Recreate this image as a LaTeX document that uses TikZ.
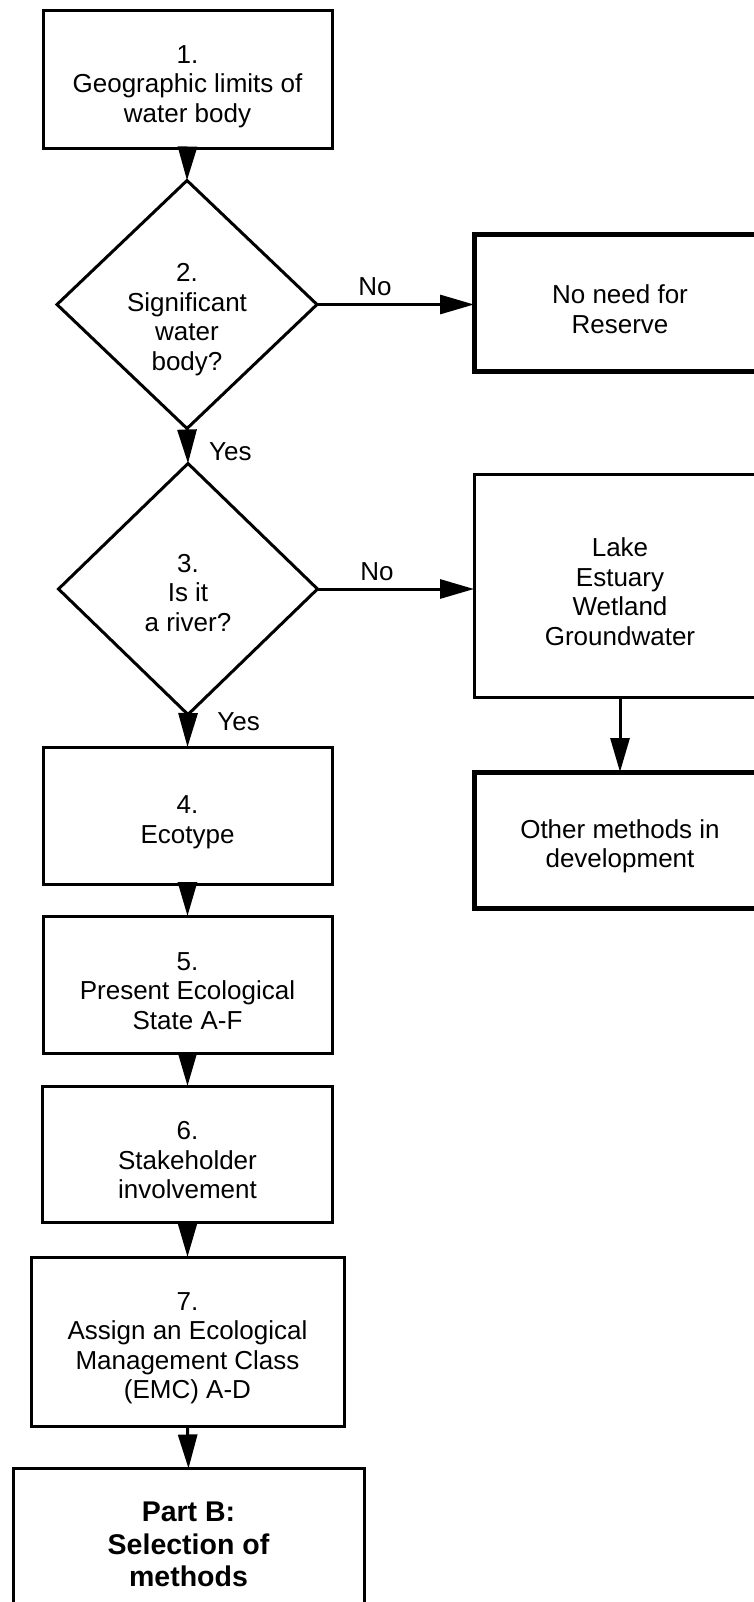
\documentclass[tikz,border=0pt]{standalone}
\usepackage{fontspec}
\setmainfont{Liberation Sans}
\usetikzlibrary{arrows.meta,shapes.geometric}

% invisible strut that sets the text block a little below the box centre
\newcommand{\toppad}{\rule{0pt}{31pt}}

\tikzset{
  txt/.style={font=\fontsize{26}{29.5}\selectfont, align=center},
  boldtxt/.style={font=\bfseries\fontsize{28.5}{32.5}\selectfont, align=center},
  stepbox/.style={txt, draw, rectangle, line width=3pt, inner sep=0pt, outer sep=0pt},
  endbox/.style={stepbox, line width=5pt},
  decision/.style={draw, diamond, line width=3pt, inner sep=0pt, outer sep=0pt},
  qtext/.style={txt, inner sep=0pt},
  arr/.style={line width=3pt, -{Triangle[length=34pt,width=19pt]}},
  lbl/.style={txt, inner sep=0pt}
}

\begin{document}
\begin{tikzpicture}[x=1pt, y=-1pt]
  \useasboundingbox (0,0) rectangle (754,1602);
  \clip (0,0) rectangle (754,1602);

  % main column
  \node[stepbox, minimum width=289pt, minimum height=138pt] (s1) at (187.5,80)
    {\toppad 1.\\Geographic limits of\\water body};
  \node[decision, minimum width=260pt, minimum height=248pt,
        label={[qtext, yshift=-15pt]center:{2.\\Significant\\water\\body?}}] (d2) at (187,304.5) {};
  \node[decision, minimum width=259pt, minimum height=251pt,
        label={[qtext, yshift=-4pt]center:{3.\\Is it\\a river?}}] (d3) at (188,589) {};
  \node[stepbox, minimum width=289pt, minimum height=137pt] (s4) at (187.5,815.5)
    {\toppad 4.\\Ecotype};
  \node[stepbox, minimum width=289pt, minimum height=137pt] (s5) at (187.5,984.5)
    {\toppad 5.\\Present Ecological\\State A-F};
  \node[stepbox, minimum width=290pt, minimum height=136pt] (s6) at (187.5,1154)
    {\toppad 6.\\Stakeholder\\involvement};
  \node[stepbox, minimum width=313pt, minimum height=169pt] (s7) at (187.5,1341.5)
    {\toppad 7.\\Assign an Ecological\\Management Class\\(EMC) A-D};
  \node[stepbox, boldtxt, minimum width=351pt, minimum height=152pt] (pb) at (188.5,1544.5)
    {Part B:\\Selection of\\methods};

  % right column
  \node[endbox, minimum width=292pt, minimum height=136pt] (nn) at (620,303)
    {\toppad No need for\\Reserve};
  \node[stepbox, minimum width=292pt, minimum height=223pt] (lk) at (620,585.5)
    {\toppad Lake\\Estuary\\Wetland\\Groundwater};
  \node[endbox, minimum width=292pt, minimum height=136pt] (om) at (620,840)
    {\toppad Other methods in\\development};

  % connectors
  \draw[arr] (s1.south) -- (d2.north);
  \draw[arr] (d2.east) -- node[lbl, pos=0.37, above=7pt] {No} (d2.east -| nn.west);
  \draw[arr] (d2.south) -- node[lbl, pos=0.65, right=20pt] {Yes} (d3.north);
  \draw[arr] (d3.east) -- node[lbl, pos=0.38, above=7pt] {No} (d3.east -| lk.west);
  \draw[arr] (d3.south) -- node[lbl, pos=0.22, right=28pt] {Yes} (s4.north);
  \draw[arr] (lk.south) -- (om.north);
  \draw[arr] (s4.south) -- (s5.north);
  \draw[arr] (s5.south) -- (s6.north);
  \draw[arr] (s6.south) -- (s7.north);
  \draw[arr] (s7.south) -- (pb.north);
\end{tikzpicture}
\end{document}
